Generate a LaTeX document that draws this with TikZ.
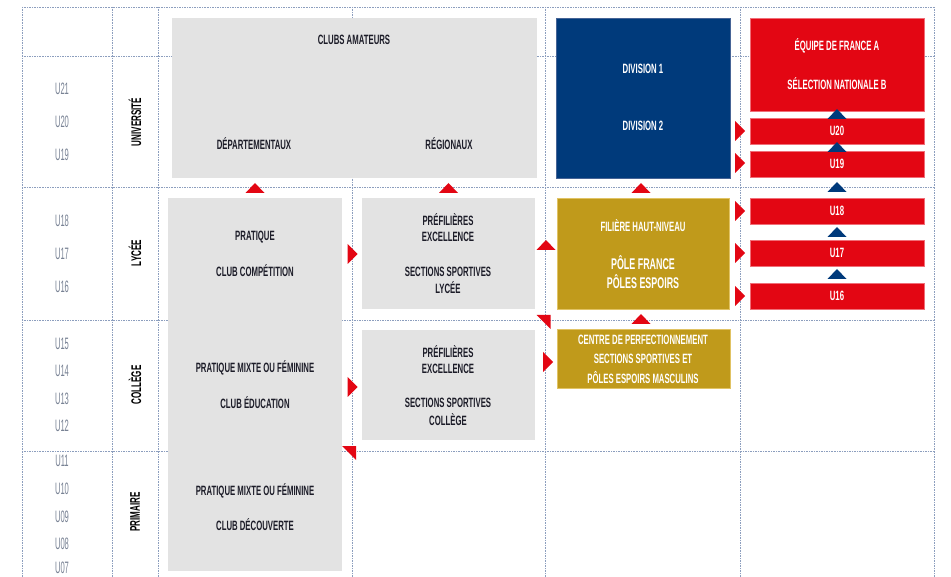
\documentclass[tikz,border=0pt]{standalone}
\usepackage{fontspec}
\newfontfamily\cf[FakeStretch=0.575]{Liberation Sans}
\newfontfamily\af[FakeStretch=0.46]{Liberation Sans}
\definecolor{gridc}{RGB}{140,158,190}
\definecolor{boxgray}{RGB}{227,227,227}
\definecolor{navy}{RGB}{0,58,123}
\definecolor{navyb}{RGB}{70,100,150}
\definecolor{ffred}{RGB}{227,6,19}
\definecolor{redb}{RGB}{240,110,120}
\definecolor{gold}{RGB}{192,154,27}
\definecolor{goldb}{RGB}{225,195,100}
\definecolor{darktxt}{RGB}{28,28,40}
\definecolor{agec}{RGB}{120,130,148}
\newcommand\triup[3]{\fill[#1,shift={(#2,#3)}] (-9.5,5) -- (9.5,5) -- (0,-5) -- cycle;}
\newcommand\triright[3]{\fill[#1,shift={(#2,#3)}] (-5,-10) -- (5,0) -- (-5,10) -- cycle;}
\newcommand\tricorner[3]{\fill[#1,shift={(#2,#3)}] (-7,-7) -- (7,-7) -- (7,7) -- cycle;}
\begin{document}
\begin{tikzpicture}[x=1pt,y=-1pt,
  gridline/.style={gridc, densely dotted, line width=0.65pt},
  box/.style={inner sep=0pt, outer sep=0pt, anchor=north west},
  graybox/.style={box, fill=boxgray},
  navybox/.style={box, fill=navy, draw=navyb, line width=0.5pt},
  redbox/.style={box, fill=ffred, draw=redb, line width=0.4pt},
  goldbox/.style={box, fill=gold, draw=goldb, line width=0.5pt},
  dlbl/.style={inner sep=0pt, text=darktxt, font=\cf\bfseries\fontsize{13.5}{15}\selectfont},
  wlbl/.style={inner sep=0pt, text=white, font=\cf\bfseries\fontsize{13.5}{15}\selectfont},
  wbig/.style={inner sep=0pt, text=white, font=\cf\bfseries\fontsize{15.5}{17}\selectfont},
  age/.style={inner sep=0pt, text=agec, font=\af\fontsize{16.5}{18}\selectfont},
  level/.style={inner sep=0pt, text=black, rotate=90, font=\cf\bfseries\fontsize{14}{16}\selectfont}
]
\useasboundingbox (0,0) rectangle (951,577);
\fill[white] (0,0) rectangle (951,577);
% grid
\foreach \x in {22,112,158,352,545,740,934} \draw[gridline] (\x,7) -- (\x,577);
\foreach \y in {7,56,187,320,451} \draw[gridline] (22,\y) -- (934,\y);

% age labels
\node[age] (u21) at (62,89) {U21};
\node[age] (u20a) at (62,122) {U20};
\node[age] (u19a) at (62,155) {U19};
\node[age] (u18a) at (62,221) {U18};
\node[age] (u17a) at (62,254) {U17};
\node[age] (u16a) at (62,287) {U16};
\node[age] (u15) at (62,344) {U15};
\node[age] (u14) at (62,371) {U14};
\node[age] (u13) at (62,399) {U13};
\node[age] (u12) at (62,426) {U12};
\node[age] (u11) at (62,461) {U11};
\node[age] (u10) at (62,489) {U10};
\node[age] (u09) at (62,517) {U09};
\node[age] (u08) at (62,544) {U08};
\node[age] (u07) at (62,568) {U07};

% level labels
\node[level] (univ) at (135,122) {UNIVERSITÉ};
\node[level] (lycee) at (135,253) {LYCÉE};
\node[level] (college) at (135,385) {COLLÈGE};
\node[level] (primaire) at (135,512) {PRIMAIRE};

% boxes
\node[graybox, minimum width=365pt, minimum height=160pt] (clubs) at (172,18) {};
\node[navybox, minimum width=174pt, minimum height=160pt] (div) at (556,18) {};
\node[redbox, minimum width=174pt, minimum height=93pt] (edf) at (750,18) {};
\node[redbox, minimum width=174pt, minimum height=26pt] (r20) at (750,118) {};
\node[redbox, minimum width=174pt, minimum height=26pt] (r19) at (750,151) {};
\node[redbox, minimum width=174pt, minimum height=26pt] (r18) at (750,198) {};
\node[redbox, minimum width=174pt, minimum height=26pt] (r17) at (750,240) {};
\node[redbox, minimum width=174pt, minimum height=26pt] (r16) at (750,283) {};
\node[graybox, minimum width=174pt, minimum height=373pt] (prat) at (168,198) {};
\node[graybox, minimum width=173pt, minimum height=111pt] (prelyc) at (362,198) {};
\node[graybox, minimum width=173pt, minimum height=110pt] (precol) at (362,330) {};
\node[goldbox, minimum width=172pt, minimum height=111pt] (fhn) at (557,198) {};
\node[goldbox, minimum width=173pt, minimum height=59pt] (cdp) at (557,329) {};

% texts
\node[dlbl] (t-clubs) at (354,40) {CLUBS AMATEURS};
\node[dlbl] (t-dep) at (254,144) {DÉPARTEMENTAUX};
\node[dlbl] (t-reg) at (449,144) {RÉGIONAUX};
\node[wlbl] (t-d1) at (643,69) {DIVISION 1};
\node[wlbl] (t-d2) at (643,126) {DIVISION 2};
\node[wlbl] (t-edf) at (837,46) {ÉQUIPE DE FRANCE A};
\node[wlbl] (t-snb) at (837,84) {SÉLECTION NATIONALE B};
\node[wlbl] (t-u20) at (837,131) {U20};
\node[wlbl] (t-u19) at (837,164) {U19};
\node[wlbl] (t-u18) at (837,211) {U18};
\node[wlbl] (t-u17) at (837,253) {U17};
\node[wlbl] (t-u16) at (837,296) {U16};
\node[dlbl] (t-p1) at (255,237) {PRATIQUE};
\node[dlbl] (t-cc) at (255,271) {CLUB COMPÉTITION};
\node[dlbl] (t-p2) at (255,368) {PRATIQUE MIXTE OU FÉMININE};
\node[dlbl] (t-ce) at (255,403) {CLUB ÉDUCATION};
\node[dlbl] (t-p3) at (255,491) {PRATIQUE MIXTE OU FÉMININE};
\node[dlbl] (t-cd) at (255,525) {CLUB DÉCOUVERTE};
\node[dlbl] (t-pf1) at (448,220) {PRÉFILIÈRES};
\node[dlbl] (t-ex1) at (448,237) {EXCELLENCE};
\node[dlbl] (t-ss1) at (448,272) {SECTIONS SPORTIVES};
\node[dlbl] (t-ly) at (448,288) {LYCÉE};
\node[dlbl] (t-pf2) at (448,352) {PRÉFILIÈRES};
\node[dlbl] (t-ex2) at (448,369) {EXCELLENCE};
\node[dlbl] (t-ss2) at (448,403) {SECTIONS SPORTIVES};
\node[dlbl] (t-co) at (448,420) {COLLÈGE};
\node[wlbl] (t-fhn) at (643,226) {FILIÈRE HAUT-NIVEAU};
\node[wbig] (t-pfr) at (643,263) {PÔLE FRANCE};
\node[wbig] (t-pes) at (643,282) {PÔLES ESPOIRS};
\node[wlbl] (t-cdp1) at (643,340) {CENTRE DE PERFECTIONNEMENT};
\node[wlbl] (t-cdp2) at (643,359) {SECTIONS SPORTIVES ET};
\node[wlbl] (t-cdp3) at (643,378) {PÔLES ESPOIRS MASCULINS};

% red up triangles
\triup{ffred}{255}{188}
\triup{ffred}{448.5}{188}
\triup{ffred}{641}{188}
\triup{ffred}{546}{245}
\triup{ffred}{641}{319}
% navy up triangles
\triup{navy}{837}{114}
\triup{navy}{837}{147}
\triup{navy}{837}{187}
\triup{navy}{837}{232}
\triup{navy}{837}{274}
% red right triangles
\triright{ffred}{740}{131}
\triright{ffred}{740}{163}
\triright{ffred}{740}{211}
\triright{ffred}{740}{253}
\triright{ffred}{740}{296}
\triright{ffred}{352.5}{254}
\triright{ffred}{352.5}{387}
\triright{ffred}{548}{362}
% corner triangles
\tricorner{ffred}{543.5}{322}
\tricorner{ffred}{349}{453}
\end{tikzpicture}
\end{document}
